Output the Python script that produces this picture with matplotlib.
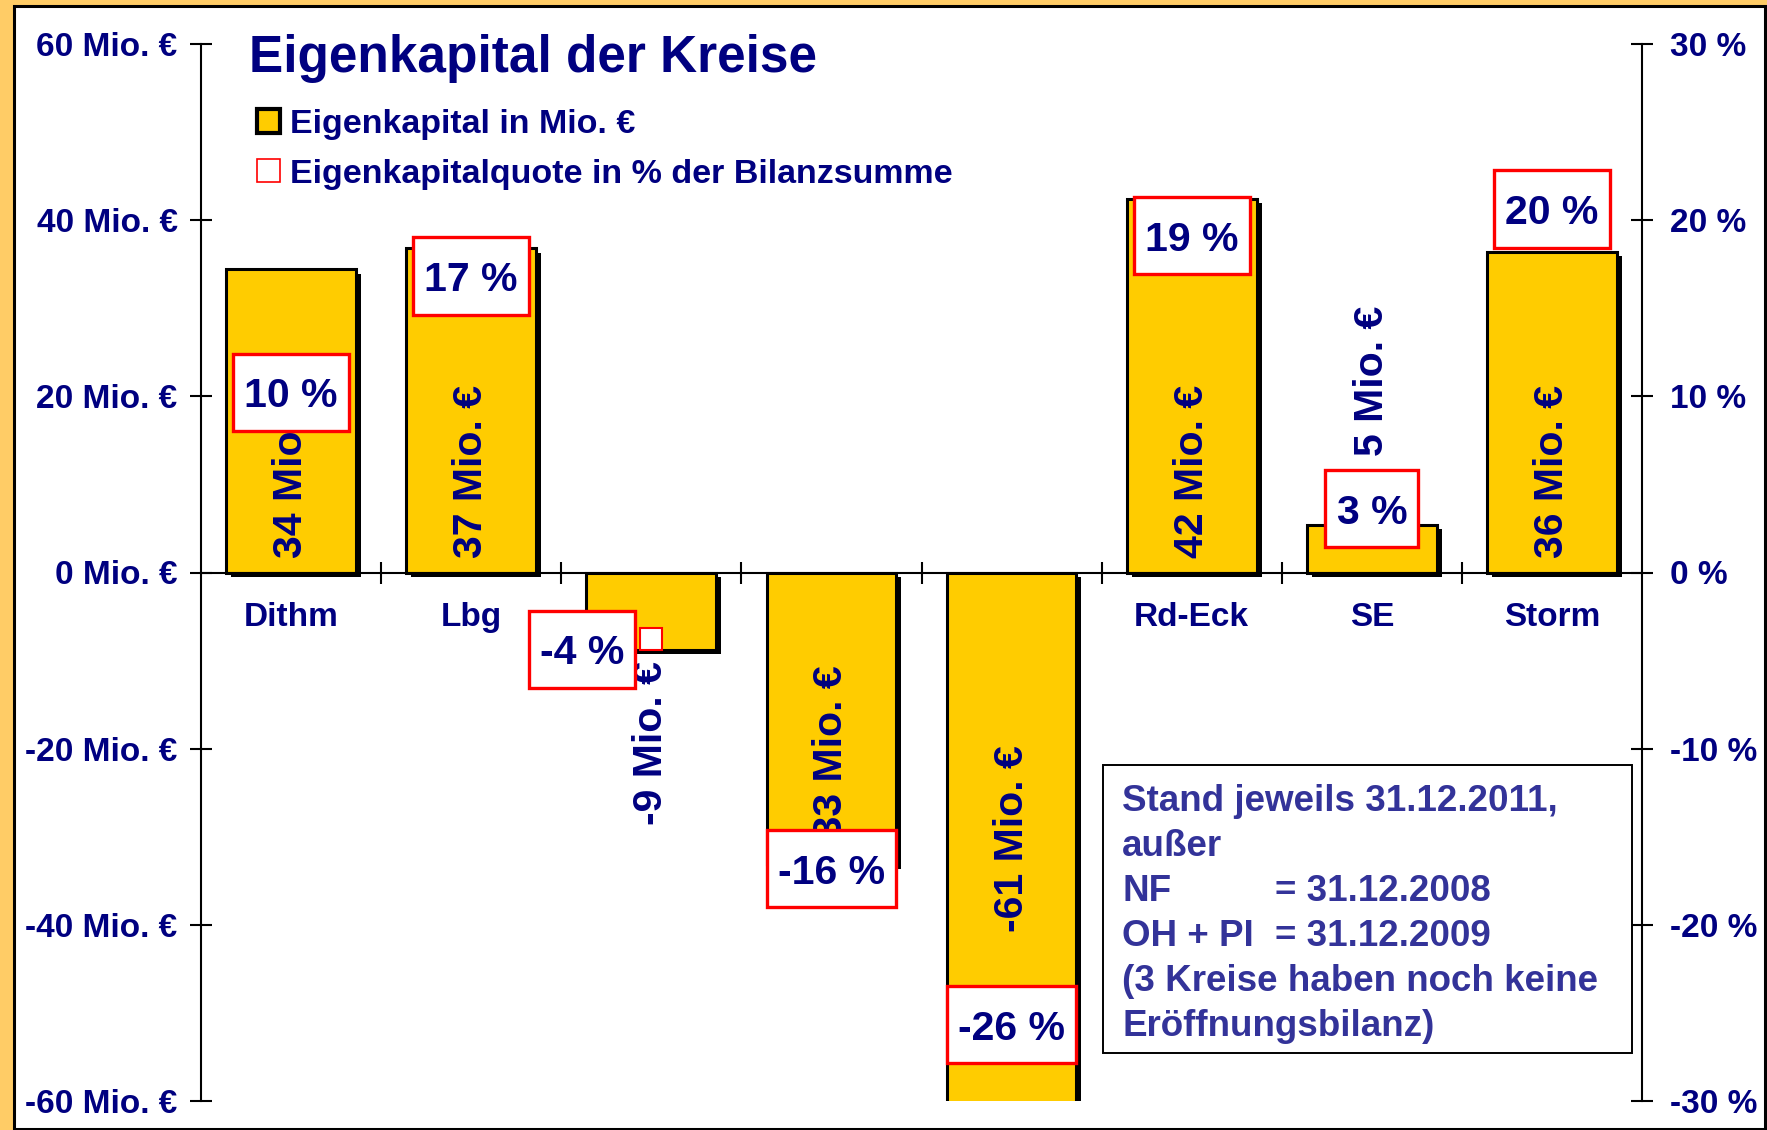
import matplotlib
matplotlib.use("Agg")
import matplotlib.pyplot as plt
from matplotlib.patches import Rectangle, Patch
from matplotlib.path import Path
import matplotlib.patheffects as pe

# data
kreise = ["Dithm", "Lbg", "NF", "OH", "PI", "Rd-Eck", "SE", "Storm"]
eigenkapital = [34.4, 36.8, -8.8, -33.1, -61.0, 42.4, 5.4, 36.4]      # Mio. EUR
quote = [10.0, 16.6, -3.8, -16.3, -25.9, 18.9, 3.4, 20.4]             # % der Bilanzsumme
left_ticks = [-60, -40, -20, 0, 20, 40, 60]
left_ticklabels = ["-60 Mio. €", "-40 Mio. €", "-20 Mio. €", "0 Mio. €",
                   "20 Mio. €", "40 Mio. €", "60 Mio. €"]
right_ticks = [-30, -20, -10, 0, 10, 20, 30]
right_ticklabels = ["-30 %", "-20 %", "-10 %", "0 %", "10 %", "20 %", "30 %"]
title = "Eigenkapital der Kreise"
legend_labels = ["Eigenkapital in Mio. €", "Eigenkapitalquote in % der Bilanzsumme"]
note_lines = ["Stand jeweils 31.12.2011,", "außer", "NF", "OH + PI",
              "(3 Kreise haben noch keine", "Eröffnungsbilanz)"]
note_dates = {2: "= 31.12.2008", 3: "= 31.12.2009"}

# layout of the value labels (manually placed in the original)
mio_label_y = [11.5, 11.5, -19.4, -21.1, -30.2, 11.5, 21.8, 11.5]
pct_offsets = [(0, 0), (0, 0), (-50, -10), (0, -9.5), (0, 0), (0, 0), (0, 0), (0, 0)]

NAVY = "#000080"
NOTE_BLUE = "#333399"
GOLD = "#FFCC00"

plt.rcParams["font.family"] = ["Liberation Sans", "DejaVu Sans"]
plt.rcParams["font.weight"] = "bold"

W, H = 1767, 1130
fx = lambda px: px / W
fy = lambda py: 1 - py / H

fig = plt.figure(figsize=(W / 100, H / 100), dpi=100, facecolor="#FFCC66")

# white panel with dark frame
fig.add_artist(Rectangle((fx(14), fy(1129)), (1765 - 14) / W, (1129 - 6) / H,
                         transform=fig.transFigure, facecolor="white",
                         edgecolor="black", linewidth=2.2, zorder=-1))

ax = fig.add_axes([fx(201), fy(1101), (1642 - 201) / W, (1101 - 44) / H])
ax.set_facecolor("none")
ax2 = ax.twinx()

x = list(range(len(kreise)))
bars = ax.bar(x, eigenkapital, width=0.72, color=GOLD, edgecolor="black",
              linewidth=2.2, zorder=2)
for b in bars:
    b.set_path_effects([pe.SimplePatchShadow(offset=(3.6, -3.2), shadow_rgbFace="black", alpha=1.0),
                        pe.Normal()])

for i, v in enumerate(eigenkapital):
    ax.text(i, mio_label_y[i], f"{round(v)} Mio. €", rotation=90, ha="center",
            va="center", fontsize=29.5, color=NAVY, zorder=4)

ax.set_xlim(-0.5, len(kreise) - 0.5)
ax.set_ylim(-60, 60)
ax.set_yticks(left_ticks)
ax.set_yticklabels(left_ticklabels)
ax.set_xticks(x)
ax.set_xticklabels(kreise)
ax.set_xticks([i + 0.5 for i in x[:-1]], minor=True)
for s in ["top", "right"]:
    ax.spines[s].set_visible(False)
ax.spines["bottom"].set_position(("data", 0))
ax.spines["left"].set_linewidth(1.5)
ax.spines["bottom"].set_linewidth(1.5)
ax.tick_params(axis="y", direction="inout", length=16.5, width=1.5, pad=8.6,
               labelsize=24, labelcolor=NAVY)
ax.tick_params(axis="x", which="major", length=0, pad=21, labelsize=24, labelcolor=NAVY)
ax.tick_params(axis="x", which="minor", direction="inout", length=16, width=1.5)

# percentage series on the secondary axis
ax2.set_ylim(-30, 30)
ax2.set_yticks(right_ticks)
ax2.set_yticklabels(right_ticklabels)
for s in ["top", "bottom", "left"]:
    ax2.spines[s].set_visible(False)
ax2.spines["right"].set_linewidth(1.5)
ax2.tick_params(axis="y", direction="inout", length=16.5, width=1.5, pad=12,
                labelsize=24, labelcolor=NAVY)
ax2.plot(x, quote, ls="none", marker="s", ms=16.5, mfc="white", mec="red", mew=1.5)


def label_box(x0, y0, width, height, mutation_size):
    px = 0.27 * mutation_size
    py = 0.48 * mutation_size
    sh = 0.1 * mutation_size
    xa, xb = x0 - px, x0 + width + px
    ya, yb = y0 - py + sh, y0 + height + py + sh
    return Path([(xa, ya), (xb, ya), (xb, yb), (xa, yb), (xa, ya)], closed=True)


for i, q in enumerate(quote):
    ax2.annotate(f"{round(q)} %", xy=(i, q), xytext=pct_offsets[i],
                 textcoords="offset points", ha="center", va="center",
                 fontsize=29.5, color=NAVY,
                 bbox=dict(boxstyle=label_box, facecolor="white",
                           edgecolor="red", linewidth=2.4))

# title and legend
fig.text(fx(249), fy(71.7), title, fontsize=37, color=NAVY, va="baseline")
handles = [Patch(facecolor=GOLD, edgecolor="black", linewidth=3),
           Patch(facecolor="white", edgecolor="red", linewidth=1.2)]
fig.legend(handles, legend_labels, loc="upper left",
           bbox_to_anchor=(fx(257), fy(109)), bbox_transform=fig.transFigure,
           frameon=False, fontsize=24.5, labelcolor=NAVY, handlelength=0.68,
           handleheight=0.68, handletextpad=0.3, labelspacing=0.55,
           borderpad=0, borderaxespad=0)

# note box
fig.add_artist(Rectangle((fx(1103), fy(1053)), (1632 - 1103) / W, (1053 - 765) / H,
                         transform=fig.transFigure, facecolor="white",
                         edgecolor="black", linewidth=1.4, zorder=3))
for k, line in enumerate(note_lines):
    yb = 810.7 + k * 45
    fig.text(fx(1122), fy(yb), line, fontsize=26.5, color=NOTE_BLUE,
             va="baseline", zorder=4)
    if k in note_dates:
        fig.text(fx(1275), fy(yb), note_dates[k], fontsize=26.5,
                 color=NOTE_BLUE, va="baseline", zorder=4)

fig.savefig("out.png", dpi=100)
